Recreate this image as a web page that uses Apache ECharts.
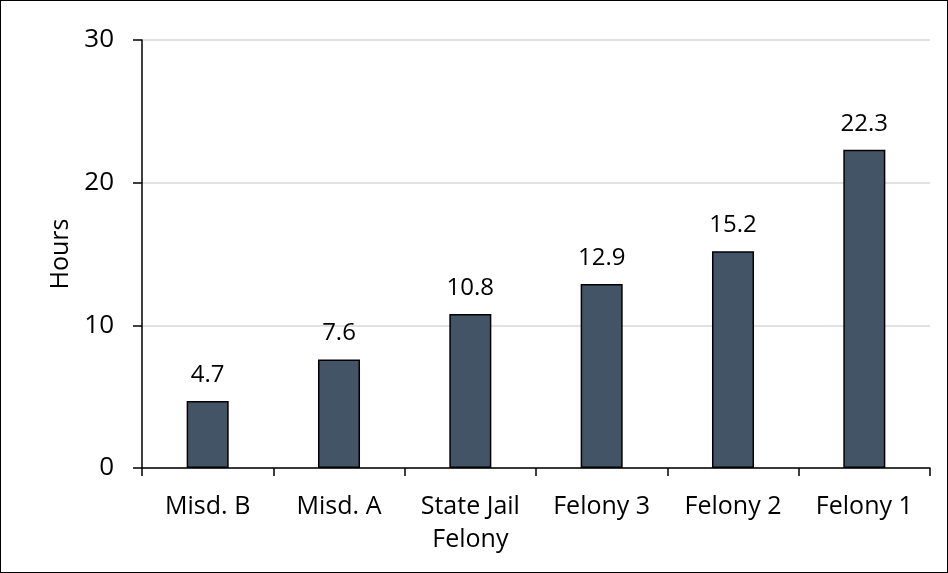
<!DOCTYPE html>
<html>
<head>
<meta charset="utf-8">
<script src="https://cdn.jsdelivr.net/npm/echarts@6/dist/echarts.min.js"></script>
<style>
html,body{margin:0;padding:0;background:#fff;}
#wrap{width:948px;height:573px;box-sizing:border-box;border:1px solid #000;}
#chart{width:946px;height:571px;}
</style>
</head>
<body>
<div id="wrap"><div id="chart"></div></div>
<script>
const categories = ["Misd. B", "Misd. A", "State Jail\nFelony", "Felony 3", "Felony 2", "Felony 1"];
const hours = [4.7, 7.6, 10.8, 12.9, 15.2, 22.3];
const yTicks = [0, 10, 20, 30];

const chart = echarts.init(document.getElementById('chart'));
const font = "Open Sans";
chart.setOption({
  animation: false,
  textStyle: {fontFamily: font},
  grid: {left: 141, right: 17, top: 39, bottom: 104},
  xAxis: {
    type: 'category',
    data: categories,
    axisLine: {lineStyle: {color: '#000', width: 1.5}},
    axisTick: {show: true, alignWithLabel: false, length: 8, lineStyle: {color: '#000', width: 1.5}},
    axisLabel: {color: '#000', fontSize: 25, fontFamily: font, margin: 22, lineHeight: 33}
  },
  yAxis: {
    type: 'value',
    min: yTicks[0], max: yTicks[yTicks.length - 1], interval: 10,
    name: 'Hours',
    nameLocation: 'middle',
    nameGap: 67,
    nameTextStyle: {color: '#000', fontSize: 25, fontFamily: font},
    axisLine: {show: true, lineStyle: {color: '#000', width: 1.5}},
    axisTick: {show: true, length: 9, lineStyle: {color: '#000', width: 1.5}},
    axisLabel: {color: '#000', fontSize: 26, fontFamily: font, margin: 28},
    splitLine: {lineStyle: {color: '#d9d9d9', width: 1.5}}
  },
  series: [{
    type: 'bar',
    data: hours,
    barWidth: '32%',
    itemStyle: {color: '#435466', borderColor: '#000', borderWidth: 1.5},
    label: {show: true, position: 'top', distance: 14, color: '#000', fontSize: 24, fontFamily: font}
  }]
});
</script>
</body>
</html>
